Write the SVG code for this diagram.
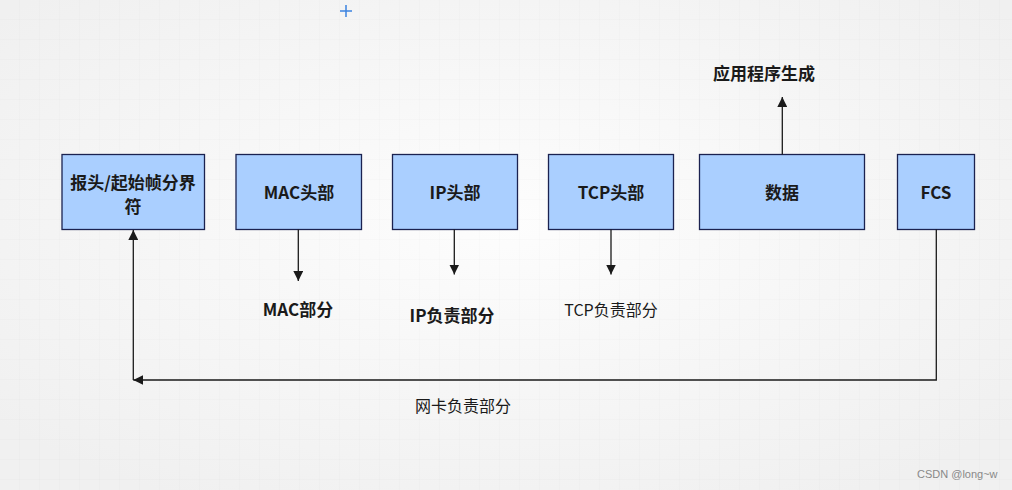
<svg xmlns="http://www.w3.org/2000/svg" width="1012" height="490" viewBox="0 0 1012 490">
<defs>
<radialGradient id="bg" cx="50%" cy="45%" r="65%">
<stop offset="0" stop-color="#fdfdfd"/>
<stop offset="1" stop-color="#f0f0f0"/>
</radialGradient>
<pattern id="grid" width="20" height="20" patternUnits="userSpaceOnUse">
<path d="M20 0V20H0" fill="none" stroke="#000" stroke-opacity="0.025" stroke-width="1"/>
</pattern>
<marker id="arr" viewBox="0 0 10 10" refX="10" refY="5" markerWidth="10" markerHeight="10" markerUnits="userSpaceOnUse" orient="auto">
<path d="M0 0L10 5L0 10Z" fill="#1a1a1a"/>
</marker>
<style>
.box{fill:#aacfff;stroke:#1b2250;stroke-width:1.3}
.lb{font-family:"Noto Sans CJK SC","Noto Sans",sans-serif;font-size:17px;font-weight:bold;fill:#1a1a1a;text-anchor:middle}
.t{font-family:"Noto Sans CJK SC","Noto Sans",sans-serif;font-size:16px;fill:#1a1a1a;text-anchor:middle}
.tb{font-weight:bold;font-size:17px}
.ln{fill:none;stroke:#1a1a1a;stroke-width:1.3}
</style>
</defs>
<rect width="1012" height="490" fill="url(#bg)"/>
<rect width="1012" height="490" fill="url(#grid)"/>
<g id="cursor" stroke="#3b82e0" stroke-width="1.5">
<path d="M346 5V17M340 11H352"/>
</g>
<g id="n1"><rect class="box" x="62" y="154.5" width="142.5" height="75"/>
<text class="lb" x="133" y="189">报头/起始帧分界</text><text class="lb" x="133" y="213">符</text></g>
<g id="n2"><rect class="box" x="236" y="154.5" width="125.5" height="75"/>
<text class="lb" x="299" y="199">MAC头部</text></g>
<g id="n3"><rect class="box" x="392.5" y="154.5" width="125" height="75"/>
<text class="lb" x="455" y="199">IP头部</text></g>
<g id="n4"><rect class="box" x="548.5" y="154.5" width="125" height="75"/>
<text class="lb" x="611" y="199">TCP头部</text></g>
<g id="n5"><rect class="box" x="699.5" y="154.5" width="165" height="75"/>
<text class="lb" x="782" y="199">数据</text></g>
<g id="n6"><rect class="box" x="897.5" y="154.5" width="77" height="75"/>
<text class="lb" x="936" y="199">FCS</text></g>
<g id="labels">
<text class="t tb" x="764" y="80">应用程序生成</text>
<text class="t tb" x="298" y="316">MAC部分</text>
<text class="t tb" x="452" y="322">IP负责部分</text>
<text class="t" x="611" y="316">TCP负责部分</text>
<text class="t" x="463" y="412">网卡负责部分</text>
</g>
<g id="connectors">
<path class="ln" d="M782.3 154.5V97" marker-end="url(#arr)"/>
<path class="ln" d="M298.3 229.5V281" marker-end="url(#arr)"/>
<path class="ln" d="M454.3 229.5V274.5" marker-end="url(#arr)"/>
<path class="ln" d="M611 229.5V274.5" marker-end="url(#arr)"/>
<path class="ln" d="M936.3 229.5V380H133.3" marker-end="url(#arr)"/>
<path class="ln" d="M133.3 380V230" marker-end="url(#arr)"/>
</g>
<text x="917" y="478" font-family="Liberation Sans,Arial,sans-serif" font-size="11" fill="#888">CSDN @long~w</text>
</svg>
